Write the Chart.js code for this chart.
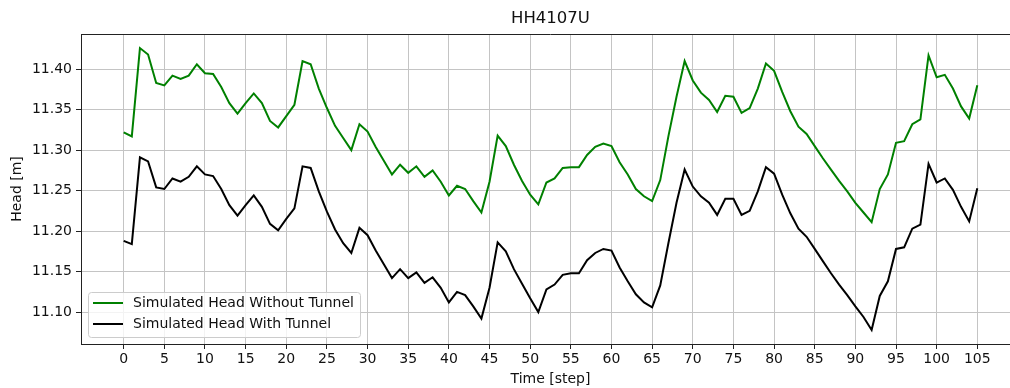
<!DOCTYPE html>
<html>
<head>
<meta charset="utf-8">
<script src="https://cdn.jsdelivr.net/npm/chart.js@4"></script>
<style>
html,body{margin:0;padding:0;background:#fff;overflow:hidden;width:1010px;height:388px;}
#wrap{width:1020px;height:388px;}
</style>
</head>
<body>
<div id="wrap"><canvas id="c" width="1020" height="388"></canvas></div>
<script>
const chartTitle = "HH4107U";
const xTitle = "Time [step]";
const yTitle = "Head [m]";
const seriesLabels = ["Simulated Head Without Tunnel", "Simulated Head With Tunnel"];
const steps = [0,1,2,3,4,5,6,7,8,9,10,11,12,13,14,15,16,17,18,19,20,21,22,23,24,25,26,27,28,29,30,31,32,33,34,35,36,37,38,39,40,41,42,43,44,45,46,47,48,49,50,51,52,53,54,55,56,57,58,59,60,61,62,63,64,65,66,67,68,69,70,71,72,73,74,75,76,77,78,79,80,81,82,83,84,85,86,87,88,89,90,91,92,93,94,95,96,97,98,99,100,101,102,103,104,105];
const headWithoutTunnel = [11.322,11.317,11.426,11.418,11.383,11.380,11.392,11.388,11.392,11.406,11.395,11.394,11.378,11.358,11.345,11.358,11.370,11.358,11.336,11.328,11.342,11.356,11.410,11.406,11.376,11.352,11.330,11.315,11.300,11.332,11.323,11.304,11.287,11.270,11.282,11.272,11.280,11.267,11.275,11.261,11.244,11.256,11.252,11.237,11.223,11.261,11.318,11.305,11.282,11.262,11.245,11.233,11.260,11.265,11.278,11.279,11.279,11.294,11.304,11.308,11.305,11.285,11.270,11.252,11.243,11.237,11.263,11.317,11.366,11.410,11.386,11.371,11.362,11.347,11.367,11.366,11.346,11.352,11.376,11.407,11.398,11.372,11.348,11.329,11.320,11.305,11.290,11.276,11.262,11.249,11.235,11.223,11.211,11.252,11.270,11.309,11.311,11.332,11.338,11.417,11.390,11.393,11.376,11.354,11.339,11.380];
const headWithTunnel = [11.188,11.184,11.291,11.286,11.254,11.252,11.265,11.261,11.267,11.280,11.270,11.268,11.252,11.232,11.219,11.232,11.244,11.230,11.209,11.201,11.215,11.228,11.280,11.278,11.249,11.224,11.202,11.185,11.173,11.204,11.195,11.176,11.159,11.142,11.153,11.142,11.149,11.136,11.143,11.130,11.112,11.125,11.121,11.107,11.092,11.130,11.186,11.175,11.153,11.135,11.117,11.100,11.128,11.134,11.146,11.148,11.148,11.164,11.173,11.178,11.176,11.155,11.138,11.122,11.112,11.106,11.133,11.185,11.235,11.276,11.255,11.243,11.235,11.220,11.240,11.240,11.220,11.225,11.249,11.279,11.271,11.245,11.222,11.203,11.193,11.178,11.163,11.148,11.134,11.121,11.107,11.094,11.078,11.120,11.138,11.178,11.180,11.203,11.208,11.283,11.260,11.265,11.251,11.230,11.212,11.253];
const xTicks = [0,5,10,15,20,25,30,35,40,45,50,55,60,65,70,75,80,85,90,95,100,105];
const yTicks = [11.10,11.15,11.20,11.25,11.30,11.35,11.40];
const seriesColors = ["#008000", "#000000"];

const FONT = "'DejaVu Sans', sans-serif";
const toPts = (arr) => steps.map((s, i) => ({x: s, y: arr[i]}));

const frame = {
  id: 'frame',
  afterDraw(chart) {
    const {ctx, chartArea: a} = chart;
    ctx.save();
    ctx.strokeStyle = '#222';
    ctx.lineWidth = 1;
    ctx.beginPath();
    ctx.moveTo(a.left, a.top + 0.5);
    ctx.lineTo(a.right, a.top + 0.5);
    ctx.stroke();
    ctx.restore();
  }
};

const innerLegend = {
  id: 'innerLegend',
  afterDraw(chart) {
    const {ctx, chartArea: a} = chart;
    const x0 = a.left + 7, y0 = a.bottom - 52, w = 272, h = 45;
    ctx.save();
    ctx.beginPath();
    if (ctx.roundRect) ctx.roundRect(x0 + 0.5, y0 + 0.5, w, h, 3); else ctx.rect(x0 + 0.5, y0 + 0.5, w, h);
    ctx.fillStyle = 'rgba(255,255,255,0.8)';
    ctx.fill();
    ctx.strokeStyle = '#cccccc';
    ctx.lineWidth = 1;
    ctx.stroke();
    ctx.font = "14px " + FONT;
    ctx.textBaseline = 'middle';
    ctx.textAlign = 'left';
    chart.data.datasets.forEach((ds, i) => {
      const ly = y0 + 11 + i * 21;
      ctx.strokeStyle = ds.borderColor;
      ctx.lineWidth = 2;
      ctx.beginPath();
      ctx.moveTo(x0 + 5, ly);
      ctx.lineTo(x0 + 35, ly);
      ctx.stroke();
      ctx.fillStyle = '#111';
      ctx.fillText(ds.label, x0 + 45, ly + 0.5);
    });
    ctx.restore();
  }
};

new Chart(document.getElementById('c'), {
  type: 'line',
  data: {
    datasets: [
      {label: seriesLabels[0], data: toPts(headWithoutTunnel), borderColor: seriesColors[0], backgroundColor: seriesColors[0], borderWidth: 2, pointRadius: 0, tension: 0, fill: false},
      {label: seriesLabels[1], data: toPts(headWithTunnel), borderColor: seriesColors[1], backgroundColor: seriesColors[1], borderWidth: 2, pointRadius: 0, tension: 0, fill: false}
    ]
  },
  options: {
    responsive: false,
    animation: false,
    devicePixelRatio: 1,
    layout: {padding: 0},
    plugins: {
      legend: {display: false},
      tooltip: {enabled: false},
      title: {
        display: true, text: chartTitle, fullSize: false,
        color: '#111', font: {family: FONT, size: 16.5, weight: 'normal', lineHeight: 1.2},
        padding: {top: 9.3, bottom: 4.9}
      }
    },
    scales: {
      x: {
        type: 'linear', min: -5.25, max: 110.25,
        afterBuildTicks: (s) => { s.ticks = xTicks.map(v => ({value: v})); },
        afterFit: (s) => { s.height = 44; },
        ticks: {color: '#111', font: {family: FONT, size: 14}, padding: 2, maxRotation: 0, autoSkip: false, callback: (v) => String(v)},
        grid: {color: '#c4c4c4', lineWidth: 1, tickColor: '#222', tickLength: 5, drawTicks: true},
        border: {color: '#222', width: 1},
        title: {display: true, text: xTitle, color: '#111', font: {family: FONT, size: 14, lineHeight: 1.2}, padding: {top: 0, bottom: 0}}
      },
      y: {
        type: 'linear', min: 11.0606, max: 11.4434,
        afterBuildTicks: (s) => { s.ticks = yTicks.map(v => ({value: v})); },
        afterFit: (s) => { s.width = 81; },
        ticks: {color: '#111', font: {family: FONT, size: 14}, padding: 4, callback: (v) => Number(v).toFixed(2)},
        grid: {color: '#c4c4c4', lineWidth: 1, tickColor: '#222', tickLength: 5},
        border: {color: '#222', width: 1},
        title: {display: true, text: yTitle, color: '#111', font: {family: FONT, size: 14, lineHeight: 1.2}, padding: {top: 9, bottom: 0}}
      }
    }
  },
  plugins: [frame, innerLegend]
});
</script>
</body>
</html>
